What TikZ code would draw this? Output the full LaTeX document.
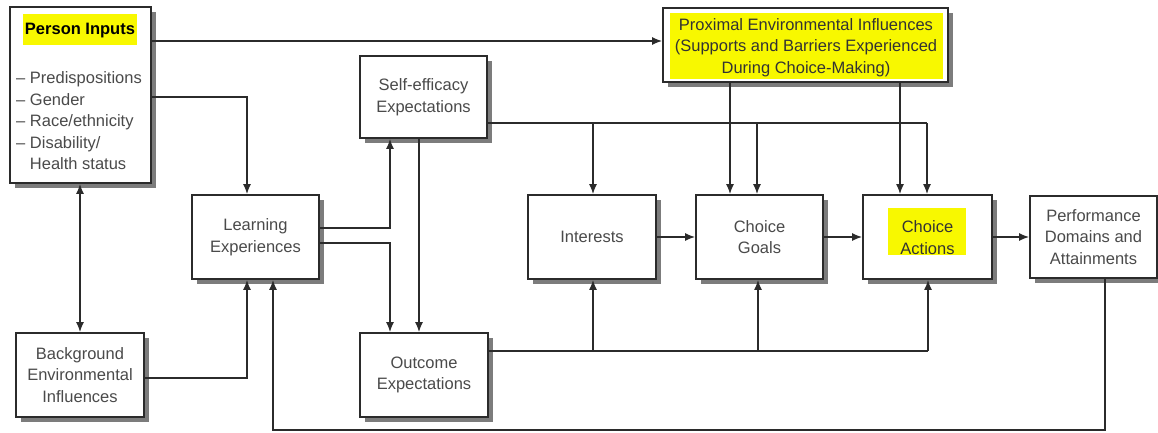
\documentclass[tikz,border=0pt]{standalone}
\usepackage{fontspec}
\setmainfont{Liberation Sans}
\usetikzlibrary{shadows,arrows.meta,calc}
\definecolor{linec}{HTML}{2B2B2B}
\definecolor{txtc}{HTML}{4A4A4A}
\definecolor{hl}{HTML}{F8F800}
\definecolor{shadc}{HTML}{7C7C7C}
\tikzset{
  box/.style={draw=linec, line width=1.8pt, fill=white, inner sep=0pt,
    drop shadow={shadow xshift=5pt, shadow yshift=-5pt, fill=shadc, opacity=1},
    text=txtc, align=center, font=\fontsize{16.5}{21.5}\selectfont},
  txt/.style={inner sep=0pt, text=txtc, align=center, font=\fontsize{16.5}{21.5}\selectfont},
  arr/.style={draw=linec, line width=1.5pt, -{Latex[length=10pt,width=8pt]}},
  arrb/.style={draw=linec, line width=1.5pt, {Latex[length=10pt,width=8pt]}-{Latex[length=10pt,width=8pt]}},
  ln/.style={draw=linec, line width=1.5pt}
}
\begin{document}
\begin{tikzpicture}[x=1pt,y=-1pt]
\useasboundingbox (0,0) rectangle (1158,432);
% boxes
\node[box, minimum width=141pt, minimum height=176pt] (pi) at (80.5,95) {};
\fill[hl] (23,14) rectangle (137,45);
\node[txt, text=black, font=\bfseries\fontsize{16.5}{21.5}\selectfont] (pit) at (80,30.5) {Person Inputs};
\node[txt, anchor=north west, align=left] (pil) at (16,71.5) {– Predispositions\\– Gender\\– Race/ethnicity\\– Disability/\\\hphantom{– }Health status};

\node[box, minimum width=127pt, minimum height=82pt] (se) at (423.5,97) {Self-efficacy\\Expectations};

\node[box, minimum width=285pt, minimum height=74pt] (prox) at (805.5,45) {};
\fill[hl] (670,13) rectangle (943,79);
\node[txt, text=black!80] (proxt) at (806,47.5) {Proximal Environmental Influences\\(Supports and Barriers Experienced\\During Choice-Making)};

\node[box, minimum width=127pt, minimum height=84pt] (le) at (255.5,237) {Learning\\Experiences};
\node[box, minimum width=128pt, minimum height=84pt] (bg) at (80,375) {Background\\Environmental\\Influences};
\node[box, minimum width=128pt, minimum height=84pt] (oe) at (424,375) {Outcome\\Expectations};
\node[box, minimum width=128pt, minimum height=84pt] (int) at (592,237) {Interests};
\node[box, minimum width=127pt, minimum height=84pt] (cg) at (759.5,237) {Choice\\Goals};
\node[box, minimum width=129pt, minimum height=84pt] (ca) at (927.5,237) {};
\fill[hl] (888,208) rectangle (966,255);
\node[txt, text=black!80] (cat) at (927.5,237.5) {Choice\\Actions};
\node[box, minimum width=127pt, minimum height=82pt] (perf) at (1093.5,237) {Performance\\Domains and\\Attainments};

% helper coordinates
\coordinate (t1) at (0,41);
\coordinate (b1) at (247,97);
\coordinate (b2) at (247,378);
\coordinate (b3) at (390,228);
\coordinate (b4) at (390,243);
\coordinate (b5) at (419,0);
\coordinate (s1) at (593,123);
\coordinate (s2) at (757,123);
\coordinate (s3) at (927,123);
\coordinate (p1) at (730,0);
\coordinate (p2) at (900,0);
\coordinate (o1) at (593,351);
\coordinate (o2) at (758,351);
\coordinate (o3) at (928,351);
\coordinate (r1) at (1105,430);
\coordinate (r2) at (273,430);

% connectors
\draw[arr] (pi.east |- t1) -- (prox.west |- t1);
\draw[arr] (pi.east |- b1) -- (b1) -- (le.north -| b1);
\draw[arrb] (bg.north |- pi.south) -- (bg.north);
\draw[arr] (bg.east |- b2) -- (b2) -- (le.south -| b2);
\draw[arr] (le.east |- b3) -- (b3) -- (se.south -| b3);
\draw[arr] (le.east |- b4) -- (b4) -- (oe.north -| b4);
\draw[arr] (se.south -| b5) -- (oe.north -| b5);
\draw[ln] (se.east |- s1) -- (s3);
\draw[arr] (s1) -- (int.north -| s1);
\draw[arr] (s2) -- (cg.north -| s2);
\draw[arr] (s3) -- (ca.north -| s3);
\draw[arr] (prox.south -| p1) -- (cg.north -| p1);
\draw[arr] (prox.south -| p2) -- (ca.north -| p2);
\draw[ln] (oe.east |- o1) -- (o3);
\draw[arr] (o1) -- (int.south -| o1);
\draw[arr] (o2) -- (cg.south -| o2);
\draw[arr] (o3) -- (ca.south -| o3);
\draw[arr] (int) -- (cg);
\draw[arr] (cg) -- (ca);
\draw[arr] (ca) -- (perf);
\draw[arr] (perf.south -| r1) -- (r1) -- (r2) -- (le.south -| r2);
\end{tikzpicture}
\end{document}
